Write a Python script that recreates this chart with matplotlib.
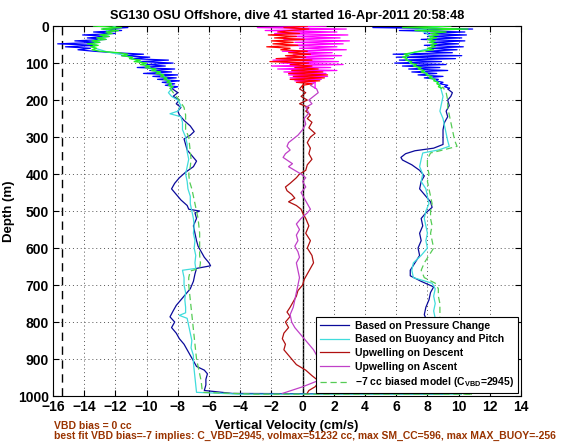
import matplotlib
matplotlib.use("Agg")
import matplotlib.pyplot as plt
import numpy as np

# ---------------- data ----------------
top_depth = [0, 4, 8, 12, 16, 20, 24, 28, 32, 36, 40, 44, 48, 52, 56, 60, 64, 68, 72, 76, 80,
             84, 88, 92, 96, 100, 104, 108, 112, 116, 120, 124, 128, 132, 136, 140, 144, 148,
             152, 156, 160, 164, 168]

# bright (near-surface) descent traces
blue_desc_top = [-12.5, -11.2, -12.8, -11.6, -13.4, -12.0, -14.1, -12.4, -13.8, -12.6, -14.6, -13.0,
                 -15.7, -13.2, -15.2, -13.6, -14.4, -13.4, -12.0, -10.2, -11.6, -9.8, -11.0, -8.6,
                 -10.4, -8.3, -10.0, -8.8, -10.6, -8.2, -9.8, -8.4, -10.2, -8.0, -9.6, -8.1, -9.3,
                 -7.9, -9.0, -8.2, -8.8, -8.0, -8.4]
green_desc_top = [-13.4, -11.6, -12.9, -11.8, -12.6, -12.2, -13.0, -12.4, -13.2, -12.6, -13.5, -13.0,
                  -13.8, -13.1, -13.6, -13.2, -13.5, -13.0, -11.8, -11.2, -11.6, -10.9, -11.1, -10.4,
                  -10.8, -10.0, -10.4, -9.8, -10.1, -9.4, -9.7, -9.1, -9.4, -8.9, -9.1, -8.7, -8.9,
                  -8.5, -8.7, -8.4, -8.6, -8.3, -8.5]
# bright (near-surface) ascent traces
blue_asc_top = [10.6, 4.5, 10.9, 6.2, 10.4, 7.8, 10.5, 8.0, 10.2, 7.6, 10.4, 8.2, 10.0, 7.8, 10.3, 8.1,
                9.9, 7.9, 9.6, 5.8, 10.2, 6.0, 9.8, 6.2, 8.9, 5.9, 9.2, 6.4, 8.8, 6.8, 9.3, 7.0, 8.6,
                7.4, 9.0, 7.8, 8.7, 8.5, 9.0, 8.8, 9.3, 9.1, 9.4]
green_asc_top = [9.5, 6.4, 10.6, 7.2, 9.2, 8.2, 8.7, 8.1, 8.6, 8.0, 8.5, 8.1, 8.6, 8.2, 8.5, 8.0, 8.4,
                 7.6, 7.0, 6.5, 6.8, 6.4, 6.7, 6.6, 7.0, 6.9, 7.3, 7.1, 7.6, 7.4, 7.8, 7.6, 8.0, 7.9,
                 8.3, 8.1, 8.5, 8.4, 8.7, 8.6, 8.8, 8.7, 8.9]
red_top = [0.3, -1.2, 0.4, -0.8, -1.6, -0.2, -2.2, -0.4, -1.8, 0.1, -2.0, -0.6, -1.9, -0.3, -2.3,
           -0.8, -1.4, 0.3, -0.9, 0.5, -1.1, 0.2, -1.7, 0.6, -2.1, 0.4, -0.8, 0.6, -0.5, 1.0, -0.7,
           1.3, -0.9, 1.6, -0.6, 1.4, -0.8, 1.1, -0.4, 0.6, 0.0, 0.0, 0.0]
magenta_top = [1.5, -2.9, 2.8, -2.4, 2.2, -1.8, 2.9, -0.8, 2.4, -1.2, 3.0, -0.5, 2.6, -1.0, 2.2, -0.2,
               2.8, -1.3, 1.9, -0.6, 2.5, -1.0, 2.0, -1.9, 2.3, -1.4, 2.6, -2.0, 1.8, -1.6, 2.2, -1.2,
               1.5, -0.9, 1.6, -0.8, 1.2, -0.5, 0.8, 0.8, 0.8, 0.8, 0.8]

# descent, lower part
bd_depth = [168, 180, 190, 200, 210, 220, 230, 240, 255, 270, 285, 295, 305, 320, 335, 350, 365, 380,
            395, 410, 425, 440, 455, 470, 485, 495, 500, 505, 520, 540, 560, 580, 595, 610, 625, 640,
            648, 655, 670, 690, 710, 725, 740, 755, 770, 786, 800, 815, 830, 845, 860, 875, 890, 905,
            920, 930, 940, 955, 970, 985, 993]
blue_desc = [-8.4, -8.0, -8.3, -7.9, -8.1, -7.8, -8.0, -7.9, -7.6, -7.2, -6.95, -7.2, -7.6, -7.5, -7.4,
             -7.1, -6.8, -7.0, -7.5, -7.9, -8.2, -8.4, -8.1, -7.8, -7.4, -7.3, -6.6, -6.9, -6.8, -7.0,
             -6.9, -6.8, -6.7, -6.5, -6.3, -6.0, -5.9, -6.8, -6.9, -7.0, -7.2, -7.5, -7.8, -8.1, -8.3,
             -8.5, -8.2, -8.4, -8.1, -7.9, -7.6, -7.4, -7.2, -7.0, -6.8, -6.3, -6.1, -6.2, -6.2, -6.3,
             -4.5]
cd_depth = [0, 10, 20, 30, 40, 50, 60, 70, 80, 90, 100, 110, 120, 130, 140, 150, 160, 170, 180, 190,
            200, 215, 230, 237, 245, 260, 280, 300, 320, 340, 360, 380, 400, 420, 440, 460, 480, 500,
            520, 540, 560, 580, 600, 620, 640, 655, 660, 680, 700, 720, 740, 760, 775, 782, 790, 810,
            830, 850, 870, 890, 910, 930, 950, 970, 990, 995]
cyan_desc = [-12.0, -12.6, -12.4, -12.8, -13.2, -13.4, -13.3, -12.5, -11.3, -10.8, -10.2, -9.9, -9.5,
             -9.0, -8.8, -8.5, -8.4, -8.4, -8.6, -8.4, -8.0, -7.8, -8.0, -8.5, -7.8, -7.7, -7.7, -7.5,
             -7.4, -7.4, -7.3, -7.4, -7.5, -7.4, -7.35, -7.2, -7.2, -7.1, -7.0, -6.95, -7.0, -6.9,
             -6.95, -6.85, -6.9, -6.85, -7.7, -7.6, -7.6, -7.5, -7.55, -7.5, -7.5, -7.9, -7.4, -7.3,
             -7.2, -7.1, -7.15, -7.0, -7.0, -6.95, -6.9, -6.85, -6.8, -4.0]
gd_depth = [168, 185, 200, 220, 240, 260, 280, 300, 320, 340, 360, 380, 400, 420, 440, 460, 480, 500,
            520, 540, 560, 580, 600, 620, 640, 655, 662, 680, 700, 720, 740, 760, 780, 800, 820, 840,
            860, 880, 900, 920, 940, 960, 980, 990, 995]
green_desc = [-8.5, -8.2, -7.9, -7.6, -7.5, -7.5, -7.5, -7.3, -7.25, -7.2, -7.15, -7.2, -7.3, -7.25,
              -7.1, -7.0, -6.9, -6.8, -6.7, -6.65, -6.6, -6.6, -6.6, -6.6, -6.55, -6.6, -7.2, -7.3,
              -7.3, -7.25, -7.2, -7.15, -7.1, -7.05, -7.0, -6.95, -6.9, -6.85, -6.8, -6.7, -6.6, -6.5,
              -6.45, -6.4, -3.0]

# ascent, lower part
ba_depth = [995, 985, 950, 900, 850, 800, 780, 760, 740, 720, 705, 690, 675, 660, 640, 620, 600, 580,
            560, 540, 520, 505, 490, 475, 460, 440, 420, 405, 390, 375, 362, 355, 345, 337, 330, 320,
            300, 280, 260, 245, 230, 215, 200, 190, 180, 170, 168]
blue_asc = [9.0, 9.0, 8.6, 8.5, 8.3, 8.0, 7.8, 7.9, 8.1, 8.2, 8.4, 7.6, 6.9, 6.9, 7.2, 7.5, 7.4, 7.6,
            7.5, 7.7, 7.6, 7.9, 8.3, 8.2, 7.9, 7.5, 7.6, 7.8, 7.5, 7.0, 6.4, 6.3, 6.6, 7.2, 8.4, 9.0,
            9.0, 9.0, 9.1, 9.3, 9.2, 9.4, 9.3, 9.5, 9.6, 9.3, 9.4]
ca_depth = [995, 990, 950, 900, 850, 790, 770, 750, 730, 710, 695, 680, 660, 640, 620, 600, 580, 560,
            540, 520, 500, 480, 460, 440, 420, 400, 380, 360, 343, 335, 325, 310, 290, 270, 250, 230,
            210, 190, 175, 160, 150, 140, 130, 120, 110, 100, 90, 80, 70, 60, 50, 40, 30, 20, 10, 0]
cyan_asc = [10.2, 8.8, 8.7, 8.6, 8.5, 8.5, 8.4, 8.5, 8.4, 8.5, 8.3, 7.1, 7.0, 7.1, 7.6, 8.0, 7.9, 8.0,
            7.9, 7.8, 7.9, 8.1, 8.0, 7.9, 7.6, 7.7, 7.5, 7.6, 7.7, 8.7, 9.4, 9.3, 9.2, 9.1, 9.0, 8.8,
            8.9, 9.0, 8.9, 8.8, 8.6, 8.3, 8.0, 7.7, 7.3, 6.9, 6.7, 6.6, 7.2, 8.2, 8.4, 8.3, 8.2, 8.0,
            7.4, 9.0]
ga_depth = [995, 990, 950, 900, 850, 790, 770, 750, 730, 710, 695, 680, 660, 640, 620, 600, 580, 560,
            540, 520, 500, 480, 460, 440, 420, 400, 380, 360, 343, 335, 325, 315, 300, 280, 260, 240,
            220, 200, 180, 165, 168]
green_asc = [10.9, 8.9, 8.9, 8.9, 8.8, 8.8, 8.8, 8.8, 8.7, 8.7, 8.5, 7.8, 7.6, 7.8, 8.1, 8.4, 8.3, 8.2,
             8.3, 8.2, 8.2, 8.3, 8.2, 8.1, 8.0, 8.1, 8.0, 8.0, 8.2, 9.0, 9.9, 9.8, 9.7, 9.6, 9.5, 9.4,
             9.3, 9.3, 9.2, 9.0, 8.9]

# upwelling, lower part
rd_depth = [160, 170, 180, 190, 200, 210, 220, 230, 240, 250, 260, 275, 290, 300, 315, 330, 345, 360,
            375, 390, 400, 410, 425, 435, 445, 455, 465, 475, 485, 495, 505, 520, 540, 560, 580, 600,
            620, 640, 655, 670, 685, 700, 715, 730, 745, 760, 773, 785, 800, 815, 830, 845, 860, 875,
            890, 905, 915, 930, 945, 955, 965, 975, 985, 992]
red_desc = [0.0, -0.2, 0.2, -0.1, 0.3, -0.2, 0.4, 0.2, 0.5, 0.3, 0.6, 0.4, 0.8, 0.5, 0.3, 0.5, 0.4, 0.6,
            0.3, 0.2, -0.2, -0.4, -0.8, -1.1, -1.0, -0.7, -0.5, -0.9, -0.4, -0.1, 0.0, 0.2, 0.4, 0.2,
            0.5, 0.3, 0.6, 0.7, 0.5, 0.3, 0.1, 0.0, -0.3, -0.4, -0.6, -0.8, -1.0, -0.8, -1.1, -0.9,
            -1.2, -1.3, -1.1, -1.2, -0.9, -0.6, -0.4, 0.2, 0.6, 0.9, 1.0, 0.8, 0.4, 0.3]
pa_depth = [993, 975, 960, 920, 890, 875, 860, 845, 830, 815, 800, 780, 760, 740, 720, 700, 680, 660,
            640, 625, 610, 595, 580, 565, 550, 535, 520, 505, 495, 480, 465, 450, 435, 420, 410, 400,
            390, 380, 372, 365, 355, 345, 335, 325, 315, 305, 295, 280, 265, 250, 235, 220, 210, 200,
            190, 180, 170, 160, 152]
purple_asc = [-1.3, 0.0, 0.9, 1.0, 0.9, 0.7, 0.4, 0.1, -0.2, -0.5, -0.7, -0.8, -0.6, -0.5, -0.4, -0.3,
              -0.2, -0.3, -0.4, -0.2, -0.3, -0.5, -0.3, -0.4, -0.2, -0.4, -0.1, 0.3, 0.5, 0.3, 0.1,
              -0.1, 0.2, 0.0, 0.2, -0.1, -0.5, -0.9, -0.65, -0.9, -1.25, -1.1, -0.8, -1.0, -0.9, -0.6,
              -0.3, 0.0, 0.2, 0.1, 0.4, 0.2, 0.6, 0.4, 0.7, 1.0, 0.9, 0.5, 0.8]

apogee_line = -15.45
xticks = list(range(-16, 15, 2))
yticks = list(range(0, 1001, 100))

title = "SG130 OSU Offshore, dive 41 started 16-Apr-2011 20:58:48"
legend_labels = ["Based on Pressure Change", "Based on Buoyancy and Pitch",
                 "Upwelling on Descent", "Upwelling on Ascent",
                 r"$-$7 cc biased model (C$_{\mathrm{VBD}}$=2945)"]
note1 = "VBD bias = 0 cc"
note2 = "best fit VBD bias=-7 implies: C_VBD=2945, volmax=51232 cc, max SM_CC=596, max MAX_BUOY=-256"

# ---------------- plot ----------------
plt.rcParams['font.family'] = ['Liberation Sans', 'DejaVu Sans']
plt.rcParams['mathtext.fontset'] = 'custom'
plt.rcParams['mathtext.rm'] = 'Liberation Sans:bold'
plt.rcParams['mathtext.it'] = 'Liberation Sans:bold'
plt.rcParams['mathtext.bf'] = 'Liberation Sans:bold'

fig = plt.figure(figsize=(5.68, 4.42), dpi=100)
ax = fig.add_axes([0.0933, 0.104, 0.824, 0.837])

NAVY = '#0a0a9a'
CYAN = '#40dcdc'
DRED = '#b01010'
PURP = '#c040c8'
LGRN = '#55cc55'
lw = 0.9

ax.axvline(0, color='black', lw=1.0, zorder=1)
ax.axvline(apogee_line, color='black', lw=1.0, ls=(0, (6, 4)), zorder=1)

# dark full profiles
l_cyan, = ax.plot(cyan_desc + cyan_asc, cd_depth + ca_depth, color=CYAN, lw=lw, zorder=3)
l_blue, = ax.plot(blue_desc + blue_asc, bd_depth + ba_depth, color=NAVY, lw=lw, zorder=2)
l_grn, = ax.plot(green_desc + green_asc, gd_depth + ga_depth, color=LGRN, lw=lw,
                 ls=(0, (5, 3)), zorder=4)
l_red, = ax.plot(red_desc, rd_depth, color=DRED, lw=lw, zorder=3)
l_pur, = ax.plot(purple_asc, pa_depth, color=PURP, lw=lw, zorder=3)

# bright near-surface traces
ax.plot(blue_desc_top, top_depth, color='#0000ff', lw=lw, zorder=2)
ax.plot(blue_asc_top, top_depth, color='#0000ff', lw=lw, zorder=2)
ax.plot(green_desc_top, top_depth, color='#22ee22', lw=lw, zorder=4)
ax.plot(green_asc_top, top_depth, color='#22ee22', lw=lw, zorder=4)
ax.plot(magenta_top, top_depth, color='#ff00ff', lw=lw, zorder=3)
ax.plot(red_top, top_depth, color='#ff0000', lw=lw, zorder=3)

ax.set_xlim(-16, 14)
ax.set_ylim(1000, 0)
ax.set_xticks(xticks)
ax.set_yticks(yticks)
ax.grid(True, color='#555555', ls=(0, (1, 3)), lw=0.7)
ax.tick_params(direction='in', top=True, right=True, labelsize=10, length=4, pad=3)
for lab in ax.get_xticklabels() + ax.get_yticklabels():
    lab.set_fontweight('bold')
for s in ax.spines.values():
    s.set_linewidth(0.8)

ax.set_title(title, fontsize=9.2, fontweight='bold', pad=5)
ax.set_xlabel("Vertical Velocity (cm/s)", fontsize=9.5, fontweight='bold', labelpad=4)
ax.set_ylabel("Depth (m)", fontsize=9.5, fontweight='bold', labelpad=2)

leg = ax.legend([l_blue, l_cyan, l_red, l_pur, l_grn], legend_labels, loc='lower right',
                prop={'size': 7.5, 'weight': 'bold'}, fancybox=False, framealpha=1,
                edgecolor='black', borderaxespad=0.3, handlelength=2.8, labelspacing=0.35,
                borderpad=0.35, handletextpad=0.6)
leg.get_frame().set_linewidth(0.8)
leg.set_zorder(10)

fig.text(0.095, 0.037, note1, fontsize=7.5, color='#993300', fontweight='bold', va='center')
fig.text(0.095, 0.014, note2, fontsize=7.5, color='#993300', fontweight='bold', va='center')

fig.savefig("out.png", dpi=100)
